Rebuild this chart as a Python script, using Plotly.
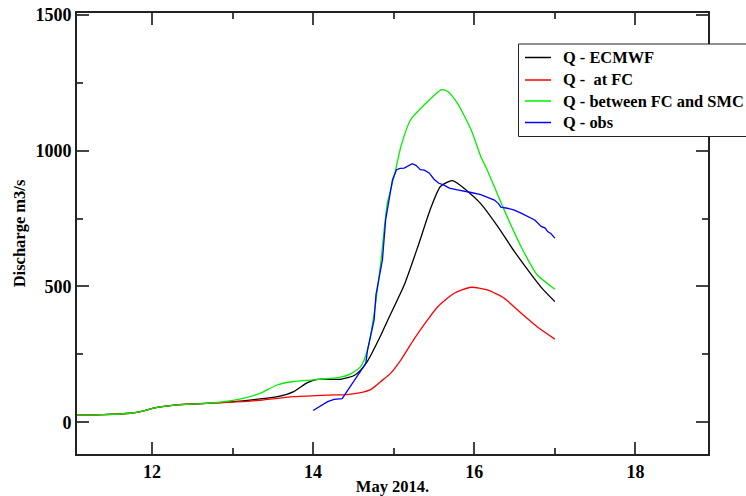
import plotly.graph_objects as go

# ---- data (day of May 2014, discharge m3/s) ----
ecmwf_x = [11.07, 11.4, 11.73, 11.9, 12.02, 12.31, 12.72, 13.13, 13.56, 13.76, 13.93, 14.05,
           14.34, 14.51, 14.59, 14.675, 14.84, 14.92, 15.13, 15.30, 15.46, 15.58, 15.73,
           15.92, 16.08, 16.29, 16.49, 16.71, 16.85, 17.0]
ecmwf_y = [27, 28, 33, 42, 52, 64, 70, 79, 94, 113, 146, 158,
           158, 172, 192, 225, 320, 372, 505, 647, 789, 868, 890,
           850, 805, 721, 632, 543, 490, 444]

fc_x = [11.07, 11.4, 11.73, 11.9, 12.02, 12.31, 12.72, 12.93, 13.34, 13.76, 14.18, 14.42,
        14.59, 14.72, 14.84, 14.96, 15.09, 15.25, 15.42, 15.55, 15.75, 15.96, 16.16,
        16.37, 16.58, 16.78, 17.0]
fc_y = [27, 28, 33, 42, 52, 64, 70, 73, 81, 94, 100, 102,
        109, 121, 150, 180, 230, 305, 377, 426, 475, 497, 487,
        457, 402, 352, 306]

smc_x = [11.07, 11.4, 11.73, 11.9, 12.02, 12.31, 12.72, 13.13, 13.34, 13.56, 13.76, 14.01,
         14.34, 14.46, 14.59, 14.675, 14.757, 14.84, 14.92, 15.005, 15.09, 15.21,
         15.38, 15.59, 15.67, 15.79, 15.96, 16.08, 16.16, 16.37, 16.60, 16.78, 17.0]
smc_y = [27, 28, 33, 42, 52, 64, 70, 88, 106, 138, 150, 156,
         166, 177, 205, 266, 400, 590, 805, 905, 1016, 1114,
         1169, 1224, 1218, 1175, 1077, 979, 929, 782, 635, 543, 490]

obs_x = [14.0, 14.1, 14.18, 14.26, 14.36, 14.46, 14.59, 14.654, 14.675, 14.716, 14.757,
         14.78, 14.80, 14.84, 14.86, 14.90, 14.94, 14.985, 15.035, 15.08, 15.13, 15.18,
         15.23, 15.28, 15.33, 15.38, 15.44, 15.50, 15.56, 15.62, 15.69, 15.79, 15.88,
         15.96, 16.08, 16.16, 16.25, 16.30, 16.33, 16.41, 16.49, 16.58, 16.66, 16.75,
         16.83, 16.88, 16.91, 16.95, 17.0]
obs_y = [43, 60, 76, 84, 87, 131, 186, 217, 266, 328, 377,
         470, 500, 560, 598, 745, 819, 893, 930, 935, 936, 945,
         952, 945, 930, 928, 918, 895, 880, 874, 862, 856, 852,
         846, 838, 828, 818, 805, 792, 788, 782, 770, 757, 745,
         721, 715, 702, 695, 678]

series = [
    ("Q - ECMWF", ecmwf_x, ecmwf_y, "#000000", "spline"),
    ("Q - \u00a0at FC", fc_x, fc_y, "#ff0000", "spline"),
    ("Q - between FC and SMC", smc_x, smc_y, "#00ee00", "spline"),
    ("Q - obs", obs_x, obs_y, "#0000ff", "linear"),
]

FONT = "Liberation Serif"
W, H = 746, 496
ML, MR, MT, MB = 77, 38, 13, 42
PW, PH = W - ML - MR, H - MT - MB


def px_x(p):
    return (p - ML) / PW


def px_y(p):
    return (H - MB - p) / PH


fig = go.Figure()
for name, xs, ys, col, shp in series:
    line = dict(color=col, width=1.3, shape=shp)
    if shp == "spline":
        line["smoothing"] = 0.6
    fig.add_trace(go.Scatter(x=xs, y=ys, mode="lines", name=name, line=line, showlegend=False))

# ---- manual legend box (drawn in paper coordinates) ----
fig.add_shape(type="rect", xref="paper", yref="paper",
              x0=px_x(518.5), x1=px_x(775), y0=px_y(136.5), y1=px_y(44),
              line=dict(color="#222222", width=1), fillcolor="white", layer="above")
row_y = [57.5, 80, 101, 122.5]
for (name, xs, ys, col, shp), ry in zip(series, row_y):
    fig.add_shape(type="line", xref="paper", yref="paper",
                  x0=px_x(525), x1=px_x(551), y0=px_y(ry), y1=px_y(ry),
                  line=dict(color=col, width=1.5), layer="above")
    fig.add_annotation(xref="paper", yref="paper", x=px_x(561), y=px_y(ry),
                       xanchor="left", yanchor="middle", showarrow=False,
                       text=name,
                       font=dict(family=FONT, size=16.4, color="#000000", weight="bold"))

axis_common = dict(
    showline=True, linewidth=2, linecolor="#222222",
    ticks="inside", ticklen=12, tickwidth=1.5, tickcolor="#444444",
    mirror="allticks", showgrid=False, zeroline=False,
    tickfont=dict(family=FONT, size=18, color="#000000", weight="bold"),
)

fig.update_xaxes(
    range=[11.07, 18.9], tickmode="linear", tick0=12, dtick=2,
    minor=dict(dtick=1, tick0=12, ticklen=6, tickwidth=1.5, tickcolor="#444444", ticks="inside"),
    title=dict(text="May 2014.", font=dict(family=FONT, size=16.5, color="#000000", weight="bold"),
               standoff=1),
    **axis_common,
)
fig.update_yaxes(
    range=[-117, 1507], tickmode="linear", tick0=0, dtick=500,
    minor=dict(dtick=250, tick0=0, ticklen=6, tickwidth=1.5, tickcolor="#444444", ticks="inside"),
    title=dict(text="Discharge m3/s", font=dict(family=FONT, size=16.5, color="#000000", weight="bold"),
               standoff=6),
    **axis_common,
)

fig.update_layout(
    width=W, height=H,
    margin=dict(l=ML, r=MR, t=MT, b=MB, autoexpand=False),
    paper_bgcolor="white", plot_bgcolor="white",
    showlegend=False,
)

fig.write_html("out.html", config={"displayModeBar": False},
               post_script="document.body.style.margin='0';")
